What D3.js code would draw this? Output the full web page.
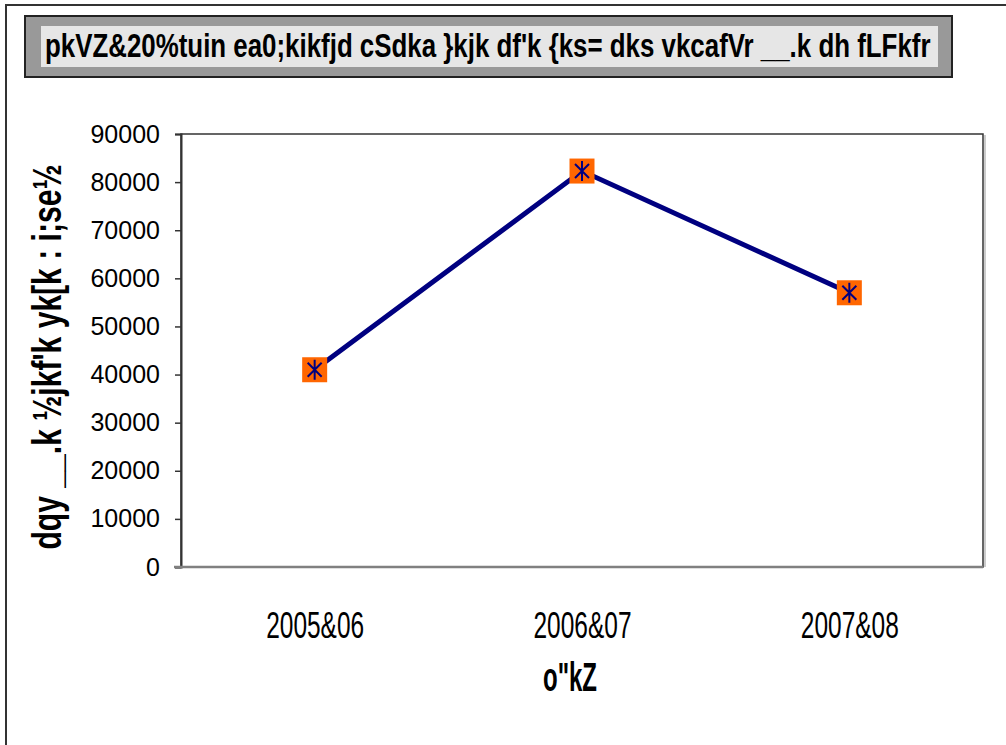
<!DOCTYPE html>
<html>
<head>
<meta charset="utf-8">
<script src="https://cdn.jsdelivr.net/npm/d3@7"></script>
<style>
  body { margin: 0; background: #fff; }
  svg { display: block; }
</style>
</head>
<body>
<div id="chart"></div>
<script>
// chart values
const years = ["2005&06", "2006&07", "2007&08"];
const loans = [41000, 82300, 57000];
const yTicks = [0, 10000, 20000, 30000, 40000, 50000, 60000, 70000, 80000, 90000];
const titleText = "pkVZ&20%tuin ea0;kikfjd cSdka }kjk df'k {ks= dks vkcafVr __.k dh fLFkfr";
const yTitle = "dqy __.k ½jkf'k yk[k : i;se½";
const xTitle = "o\"kZ";

const W = 1006, H = 745;
const margin = { top: 134, right: 23, bottom: 178, left: 181 },
  width = W - margin.left - margin.right,
  height = H - margin.top - margin.bottom;

const narrow = "'Liberation Sans Narrow', 'Liberation Sans', Arial, sans-serif";

const svgRoot = d3.select("#chart")
  .append("svg")
  .attr("width", W)
  .attr("height", H);

// outer border (top and left only)
svgRoot.append("path")
  .attr("d", `M6,${H} V5 H${W}`)
  .attr("fill", "none")
  .attr("stroke", "#333")
  .attr("stroke-width", 2);

// title box
svgRoot.append("rect")
  .attr("x", 25).attr("y", 16)
  .attr("width", 927).attr("height", 61)
  .attr("fill", "#999")
  .attr("stroke", "#222")
  .attr("stroke-width", 2);
svgRoot.append("rect")
  .attr("x", 41).attr("y", 26)
  .attr("width", 897).attr("height", 41)
  .attr("fill", "#e6e6e6");
const title = svgRoot.append("text")
  .attr("font-family", narrow)
  .attr("font-size", 33)
  .attr("font-weight", "bold")
  .text(titleText);
// squeeze the title horizontally so it fits the light box
const tw = title.node().getComputedTextLength();
title.attr("transform", `translate(45, 57) scale(${886 / tw}, 1)`);

const svg = svgRoot.append("g")
  .attr("transform", `translate(${margin.left}, ${margin.top})`);

const x = d3.scalePoint()
  .domain(years)
  .range([0, width])
  .padding(0.5);

const y = d3.scaleLinear()
  .domain([0, 90000])
  .range([height, 0]);

// plot frame
svg.append("rect")
  .attr("width", width).attr("height", height)
  .attr("fill", "#fff")
  .attr("stroke", "#333")
  .attr("stroke-width", 1.5);
svg.append("line")
  .attr("x1", width + 2).attr("x2", width + 2)
  .attr("y1", 1).attr("y2", height)
  .attr("stroke", "#bbb").attr("stroke-width", 1.5);

// y axis
const yAxis = svg.append("g")
  .call(d3.axisLeft(y).tickValues(yTicks).tickSize(6).tickPadding(15).tickFormat(d3.format("d")));
yAxis.select(".domain").attr("stroke", "#333").attr("stroke-width", 2);
yAxis.selectAll(".tick line").attr("stroke", "#333").attr("stroke-width", 1.5);
yAxis.selectAll(".tick text")
  .attr("font-family", "'Liberation Sans', Arial, sans-serif")
  .attr("font-size", 25)
  .attr("fill", "#000");

// x axis (no ticks, just the baseline and labels)
const xAxis = svg.append("g")
  .attr("transform", `translate(0, ${height})`)
  .call(d3.axisBottom(x).tickSize(0).tickPadding(0));
xAxis.select(".domain").attr("stroke", "#808080").attr("stroke-width", 2.5)
  .attr("d", `M-7,0H${width}`);
xAxis.selectAll(".tick text")
  .attr("y", 71)
  .attr("dy", 0)
  .attr("font-family", narrow)
  .attr("font-size", 36)
  .attr("fill", "#000")
  .attr("textLength", 98)
  .attr("lengthAdjust", "spacingAndGlyphs");

// axis titles
svg.append("text")
  .attr("x", x(years[1]) - 12)
  .attr("y", height + 124)
  .attr("text-anchor", "middle")
  .attr("font-family", narrow)
  .attr("font-size", 40)
  .attr("font-weight", "bold")
  .attr("textLength", 54)
  .attr("lengthAdjust", "spacingAndGlyphs")
  .text(xTitle);

svgRoot.append("text")
  .attr("transform", `translate(61, 357) rotate(-90)`)
  .attr("text-anchor", "middle")
  .attr("font-family", narrow)
  .attr("font-size", 40)
  .attr("font-weight", "bold")
  .attr("textLength", 385)
  .attr("lengthAdjust", "spacingAndGlyphs")
  .text(yTitle);

// the line
const pts = years.map((d, i) => ({ year: d, value: loans[i] }));
svg.append("path")
  .datum(pts)
  .attr("fill", "none")
  .attr("stroke", "#000080")
  .attr("stroke-width", 5)
  .attr("d", d3.line()
    .x(d => x(d.year))
    .y(d => y(d.value))
  );

// markers: orange square with navy asterisk
const mk = svg.selectAll(".marker")
  .data(pts)
  .join("g")
  .attr("class", "marker")
  .attr("transform", d => `translate(${x(d.year)}, ${y(d.value)})`);
mk.append("rect")
  .attr("x", -12.5).attr("y", -12.5)
  .attr("width", 25).attr("height", 25)
  .attr("fill", "#ff6600");
mk.append("path")
  .attr("d", "M0,-10V10M-7,-7L7,7M-7,7L7,-7")
  .attr("stroke", "#000080")
  .attr("stroke-width", 2)
  .attr("fill", "none");
</script>
</body>
</html>
